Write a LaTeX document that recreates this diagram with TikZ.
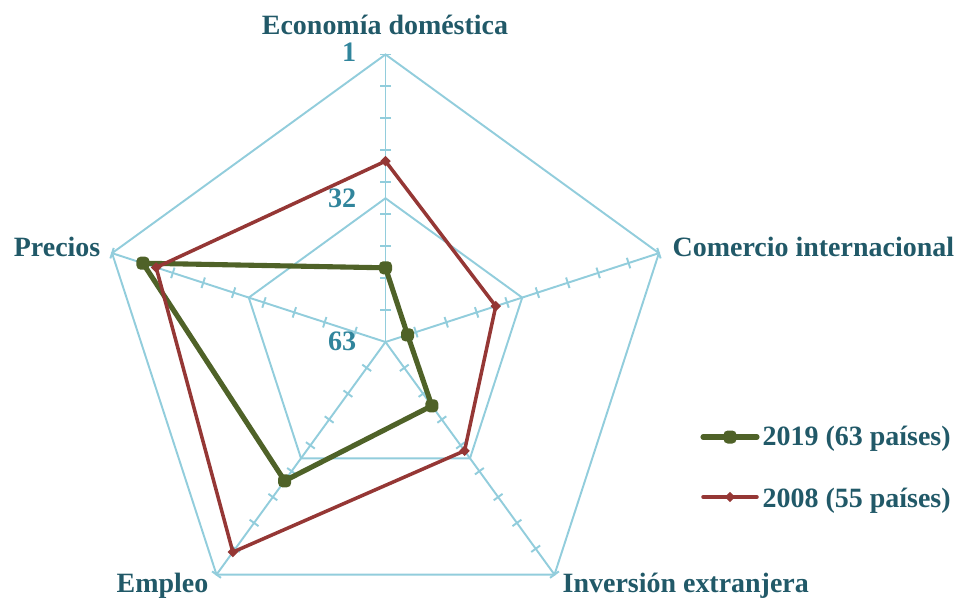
\documentclass[tikz,border=0pt]{standalone}
\usepackage{fontspec}
\setmainfont{Liberation Serif}
\usetikzlibrary{shapes.geometric}
\definecolor{gridblue}{HTML}{92CDDC}
\definecolor{labelteal}{HTML}{215968}
\definecolor{numteal}{HTML}{31859C}
\definecolor{olive19}{HTML}{4F6228}
\definecolor{red08}{HTML}{953735}

\begin{document}
\begin{tikzpicture}
[x=0.01cm,y=0.01cm,
grid/.style={draw=gridblue,line width=0.55pt},
lbl/.style={text=labelteal,inner sep=0pt,font=\fontsize{7.95}{9}\selectfont\bfseries},
num/.style={text=numteal,inner sep=0pt,anchor=base east,font=\fontsize{8}{9}\selectfont\bfseries},
mk19/.style={rectangle,rounded corners=1.2pt,fill=olive19,inner sep=0pt,minimum size=0.13cm},
mk08/.style={diamond,fill=red08,inner sep=0pt,minimum size=0.11cm},
ln19/.style={draw=olive19,line width=1.45pt,line cap=round},
ln08/.style={draw=red08,line width=1pt,line cap=round}]
\useasboundingbox (-385.5,-255) rectangle (572.5,342);
% grid
\draw[grid] (90:287.5) \foreach \a in {18,-54,-126,162} {-- (\a:287.5)} -- cycle;
\draw[grid] (90:143.75) \foreach \a in {18,-54,-126,162} {-- (\a:143.75)} -- cycle;
\foreach \a in {90,18,-54,-126,162} {
  \draw[grid,rotate=\a] (0,0) -- (287.5,0);
  \foreach \k in {1,...,9}
    \draw[grid,rotate=\a] (\k*31.944,-5.5) -- (\k*31.944,5.5);
}
% axis labels
\node[lbl,anchor=base] (econ) at (-0.5,307) {Economía doméstica};
\node[lbl,anchor=base west] (comer) at (286.5,86) {Comercio internacional};
\node[lbl,anchor=base west] (inver) at (176.5,-250) {Inversión extranjera};
\node[lbl,anchor=base east] (empleo) at (-176.5,-250) {Empleo};
\node[lbl,anchor=base east] (precios) at (-284.5,86) {Precios};
\node[num] (n1) at (-28.5,280) {1};
\node[num] (n32) at (-28.5,135) {32};
\node[num] (n63) at (-28.5,-8) {63};
% 2019
\foreach \a/\v/\n in {90/47/1,18/58/2,-54/46/3,-126/26/4,162/8/5}
  \node[mk19] (g\n) at (\a:{(63-\v)*287.5/62}) {};
\foreach \from/\to in {g1/g2,g2/g3,g3/g4,g4/g5,g5/g1}
  \draw[ln19] (\from.center) -- (\to.center);
% 2008
\foreach \a/\v/\n in {90/24/1,18/38/2,-54/34/3,-126/7/4,162/11/5}
  \node[mk08] (r\n) at (\a:{(63-\v)*287.5/62}) {};
\foreach \from/\to in {r1/r2,r2/r3,r3/r4,r4/r5,r5/r1}
  \draw[ln08] (\from.center) -- (\to.center);
% legend
\coordinate (l19a) at (317.5,-95);
\coordinate (l19b) at (371.5,-95);
\draw[ln19] (l19a) -- (l19b);
\node[mk19] (l19) at (344.5,-95) {};
\node[lbl,anchor=base west] (t19) at (376.5,-103) {2019 (63 países)};
\coordinate (l08a) at (317.5,-155);
\coordinate (l08b) at (371.5,-155);
\draw[ln08] (l08a) -- (l08b);
\node[mk08] (l08) at (344.5,-155) {};
\node[lbl,anchor=base west] (t08) at (376.5,-165) {2008 (55 países)};
\end{tikzpicture}
\end{document}
